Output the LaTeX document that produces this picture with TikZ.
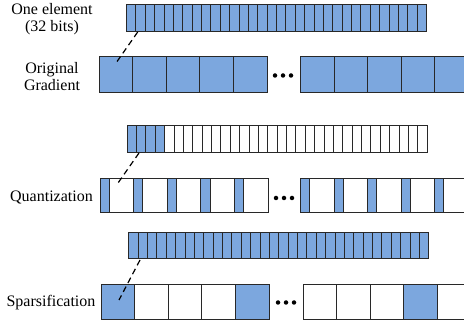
\documentclass[tikz,border=0pt]{standalone}
\usepackage{fontspec}
\setmainfont{Liberation Serif}
\definecolor{cellblue}{RGB}{124,167,222}
\definecolor{edge}{RGB}{40,40,40}
\begin{document}
\begin{tikzpicture}[x=1pt,y=-1pt,
  bit/.style={draw=edge, line width=1pt},
  blk/.style={draw=edge, line width=1pt},
  zoomline/.style={draw=black, line width=1.2pt, dash pattern=on 6pt off 4pt},
  lbl/.style={font=\fontsize{16}{18}\selectfont, align=center, inner sep=0pt},
  dot/.style={circle, fill=black, inner sep=0pt, minimum size=4.5pt}]
\useasboundingbox (0,0) rectangle (464,326);
\clip (0,0) rectangle (464,326);

% ---------- labels ----------
\node[lbl] (l1) at (52,19.5) {One element\\[-1pt](32 bits)};
\node[lbl] (l2) at (52,77) {Original\\[-1pt]Gradient};
\node[lbl] (l3) at (51.5,198) {Quantization};
\node[lbl] (l4) at (51,302.5) {Sparsification};

% ---------- row 1 ----------
\foreach \i in {0,...,31}
  \draw[bit, fill=cellblue] ({126.5+\i*9.375},5) rectangle ++(9.375,27);
\foreach \i in {0,...,4}
  \draw[blk, fill=cellblue] ({99+\i*33.6},57) rectangle ++(33.6,36);
\foreach \i in {0,...,4}
  \draw[blk, fill=cellblue] ({300.7+\i*33.5},57) rectangle ++(33.5,36);
\node[dot] (d1a) at (275,75.5) {};
\node[dot] (d1b) at (283,75.5) {};
\node[dot] (d1c) at (291,75.5) {};
\coordinate (z1a) at (137.7,32);
\coordinate (z1b) at (116,63);
\draw[zoomline] (z1a) -- (z1b);

% ---------- row 2 ----------
\foreach \i in {0,...,31}{
  \ifnum\i<4
    \draw[bit, fill=cellblue] ({127.2+\i*9.375},126) rectangle ++(9.375,27);
  \else
    \draw[bit, fill=white] ({127.2+\i*9.375},126) rectangle ++(9.375,27);
  \fi}
\foreach \i in {0,...,4}{
  \draw[blk, fill=white] ({100+\i*33.6},179) rectangle ++(33.6,34);
  \draw[blk, fill=cellblue] ({100+\i*33.6},179) rectangle ++(9.2,34);}
\foreach \i in {0,...,4}{
  \draw[blk, fill=white] ({300.7+\i*33.5},179) rectangle ++(33.5,34);
  \draw[blk, fill=cellblue] ({300.7+\i*33.5},179) rectangle ++(9.2,34);}
\node[dot] (d2a) at (276,198) {};
\node[dot] (d2b) at (284,198) {};
\node[dot] (d2c) at (292,198) {};
\coordinate (z2a) at (139,153);
\coordinate (z2b) at (118,183);
\draw[zoomline] (z2a) -- (z2b);

% ---------- row 3 ----------
\foreach \i in {0,...,31}
  \draw[bit, fill=cellblue] ({128.8+\i*9.375},233) rectangle ++(9.375,26);
\foreach \i/\c in {0/cellblue,1/white,2/white,3/white,4/cellblue}
  \draw[blk, fill=\c] ({101+\i*33.6},285) rectangle ++(33.6,35);
\foreach \i/\c in {0/white,1/white,2/white,3/cellblue,4/white}
  \draw[blk, fill=\c] ({303+\i*33.5},285) rectangle ++(33.5,35);
\node[dot] (d3a) at (278,302.5) {};
\node[dot] (d3b) at (286,302.5) {};
\node[dot] (d3c) at (294,302.5) {};
\coordinate (z3a) at (140,260);
\coordinate (z3b) at (119,300);
\draw[zoomline] (z3a) -- (z3b);
\end{tikzpicture}
\end{document}
